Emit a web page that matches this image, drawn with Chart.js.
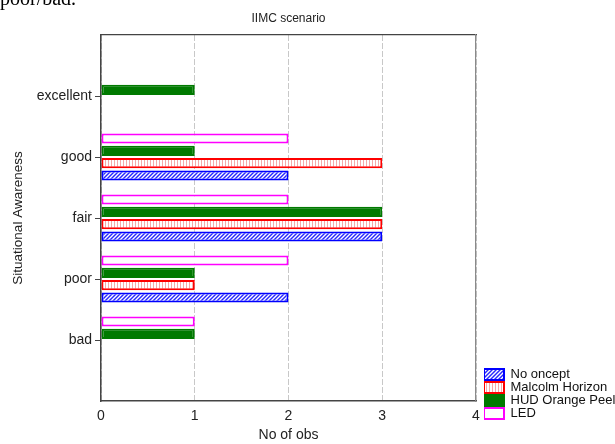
<!DOCTYPE html>
<html>
<head>
<meta charset="utf-8">
<script src="https://cdn.jsdelivr.net/npm/chart.js@4/dist/chart.umd.min.js"></script>
<style>
  html,body{margin:0;padding:0;background:#fff;overflow:hidden;}
  #wrap{position:relative;width:615px;height:444px;}
  #clip{position:absolute;left:0;top:-12px;font:20px 'Liberation Serif',serif;color:#000;line-height:20px;}
</style>
</head>
<body>
<div id="wrap">
  <canvas id="chart" width="615" height="444"></canvas>
  <div id="clip">poor/bad.</div>
</div>
<script>
// ---- data ----
const categories = ['excellent','good','fair','poor','bad'];
const noConcept  = [0, 2, 3, 2, 0];
const malcolm    = [0, 3, 3, 1, 0];
const hudOrange  = [1, 1, 3, 1, 1];
const led        = [0, 2, 2, 2, 1];
const xTicks     = [0, 1, 2, 3, 4];

// 上下に空スロットを入れて、カテゴリ位置を 1..5 / 6 区間にする
const labels = ['', ...categories, ''];
const pad = arr => [null, ...arr.map(v => v || null), null];

const FONT = "'Liberation Sans', Arial, sans-serif";

// hatch patterns
function pattern(size, draw){
  const c = document.createElement('canvas');
  c.width = c.height = size;
  const g = c.getContext('2d');
  draw(g, size);
  return document.getElementById('chart').getContext('2d').createPattern(c, 'repeat');
}
const blueHatch = pattern(4, (g, s) => {
  g.fillStyle = '#2828ff'; g.fillRect(0, 0, s, s);
  g.strokeStyle = '#ffffff'; g.lineWidth = 1.4;
  g.beginPath();
  g.moveTo(-1, s + 1); g.lineTo(s + 1, -1);
  g.moveTo(-1, 1); g.lineTo(1, -1);
  g.moveTo(s - 1, s + 1); g.lineTo(s + 1, s - 1);
  g.stroke();
});
const redStripe = pattern(3, (g, s) => {
  g.fillStyle = '#ffffff'; g.fillRect(0, 0, s, s);
  g.fillStyle = '#f6a8a8'; g.fillRect(0, 0, 1, s);
});

// legend を右下へ固定
const legendPlace = {
  id: 'legendPlace',
  beforeDraw(chart){
    const lg = chart.legend;
    lg.left = 484; lg.right = 615; lg.top = 368; lg.bottom = 444;
  }
};

new Chart(document.getElementById('chart'), {
  type: 'bar',
  data: {
    labels,
    datasets: [
      {label:'LED', data: pad(led), backgroundColor:'#ffffff', borderColor:'#ff00ff', borderWidth:2, borderSkipped:false},
      {label:'HUD Orange Peel', data: pad(hudOrange), backgroundColor:'#007a00', borderColor:'#007a00', borderWidth:2, borderSkipped:false},
      {label:'Malcolm Horizon', data: pad(malcolm), backgroundColor: redStripe, borderColor:'#ff0000', borderWidth:2, borderSkipped:false},
      {label:'No oncept', data: pad(noConcept), backgroundColor: blueHatch, borderColor:'#0000ff', borderWidth:2, borderSkipped:false},
    ]
  },
  options: {
    indexAxis: 'y',
    responsive: false,
    animation: false,
    events: [],
    categoryPercentage: 0.806,
    barPercentage: 0.82,
    layout: {padding: 0},
    plugins: {
      title: {display:false},
      legend: {
        position:'right', align:'start', reverse:true, maxWidth:139,
        labels:{boxWidth:20, boxHeight:11, padding:0, color:'#111', font:{family:FONT, size:13}}
      },
      tooltip: {enabled:false}
    },
    scales: {
      x: {
        type:'linear', min:0, max:4,
        afterBuildTicks: s => { s.ticks = xTicks.map(v => ({value:v})); },
        afterFit: s => { s.height = 43; },
        grid: {color:'#c8c8c8', drawTicks:false},
        border: {display:true, color:'#444', width:1.5, dash:[6,2]},
        ticks: {color:'#222', padding:7, font:{family:FONT, size:14}},
        title: {display:true, text:'No of obs', color:'#222', font:{family:FONT, size:14}, padding:{top:0, bottom:0}}
      },
      // 上枠 ＋ タイトル（プロット中央に揃える）
      xTop: {
        type:'linear', position:'top', min:0, max:4,
        afterFit: s => { s.height = 35; },
        grid: {drawOnChartArea:false, drawTicks:false},
        border: {display:true, color:'#444', width:1.2},
        ticks: {display:false},
        title: {display:true, text:'IIMC scenario', color:'#222', font:{family:FONT, size:12}, padding:{top:11, bottom:0}}
      },
      y: {
        type:'category', offset:false,
        afterFit: s => { s.width = 101; },
        grid: {offset:false, drawOnChartArea:false, tickLength:6, tickColor: c => c.tick && c.tick.label === '' ? 'rgba(0,0,0,0)' : '#444'},
        border: {display:true, color:'#444', width:1.5},
        ticks: {color:'#222', padding:3, autoSkip:false, font:{family:FONT, size:14}},
        title: {display:true, text:'Situational Awareness', color:'#222', font:{family:FONT, size:13.5}, padding:{top:10, bottom:0}}
      },
      // 右枠
      yRight: {
        type:'linear', position:'right', min:0, max:1,
        afterFit: s => { s.width = 0; },
        grid: {drawOnChartArea:false, drawTicks:false},
        border: {display:true, color:'#8a8a8a', width:1.2},
        ticks: {display:false}
      }
    }
  },
  plugins: [legendPlace]
});
</script>
</body>
</html>
